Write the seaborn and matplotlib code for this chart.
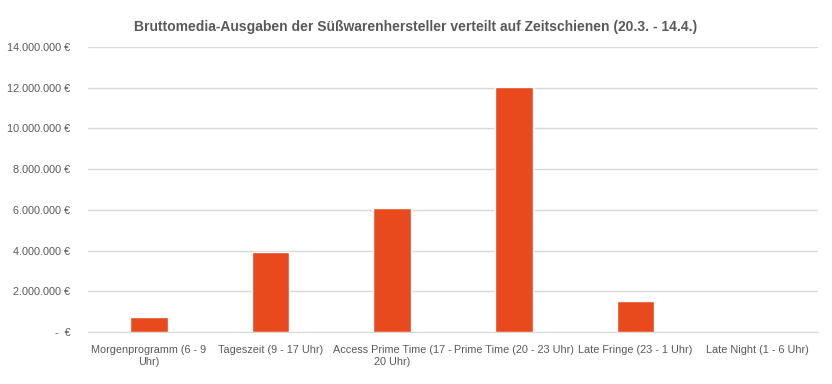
import pandas as pd
import matplotlib
matplotlib.use('Agg')
import matplotlib.pyplot as plt
import seaborn as sns
from matplotlib.ticker import FuncFormatter, MultipleLocator

# Daten
zeitschienen = ['Morgenprogramm (6 - 9\nUhr)', 'Tageszeit (9 - 17 Uhr)',
                'Access Prime Time (17 -\n20 Uhr)', 'Prime Time (20 - 23 Uhr)',
                'Late Fringe (23 - 1 Uhr)', 'Late Night (1 - 6 Uhr)']
ausgaben = [740000, 3930000, 6090000, 12040000, 1520000, 10000]

df = pd.DataFrame({'zeitschiene': zeitschienen, 'ausgaben': ausgaben})

sns.set_style('white')
plt.rcParams['font.family'] = ['Liberation Sans Narrow', 'Liberation Sans', 'DejaVu Sans']

fig, ax = plt.subplots(figsize=(8.32, 3.84), dpi=100)
fig.subplots_adjust(left=0.106, right=0.983, top=0.878, bottom=0.135)

sns.barplot(data=df, x='zeitschiene', y='ausgaben', color='#E84A1E',
            saturation=1, width=0.31, ax=ax, zorder=3)

def euro(v, pos):
    if v == 0:
        return '-  €'
    return f'{int(v):,} €'.replace(',', '.')

ax.set_ylim(0, 14000000)
ax.yaxis.set_major_locator(MultipleLocator(2000000))
ax.yaxis.set_major_formatter(FuncFormatter(euro))
ax.grid(axis='y', color='#D9D9D9', linewidth=1, zorder=0)
ax.set_axisbelow(True)
for s in ['top', 'right', 'left']:
    ax.spines[s].set_visible(False)
ax.spines['bottom'].set_color('#D9D9D9')
ax.tick_params(axis='x', length=0, labelsize=7.8, colors='#595959', pad=9)
ax.tick_params(axis='y', length=0, labelsize=7.8, colors='#595959', pad=13)
for lbl in ax.get_xticklabels():
    lbl.set_linespacing(1.35)
ax.set_xlabel('')
ax.set_ylabel('')
fig.suptitle('Bruttomedia-Ausgaben der Süßwarenhersteller verteilt auf Zeitschienen (20.3. - 14.4.)',
             x=0.5, y=0.948, fontsize=10, fontweight='bold', color='#595959')

fig.savefig('out.png', dpi=100)
